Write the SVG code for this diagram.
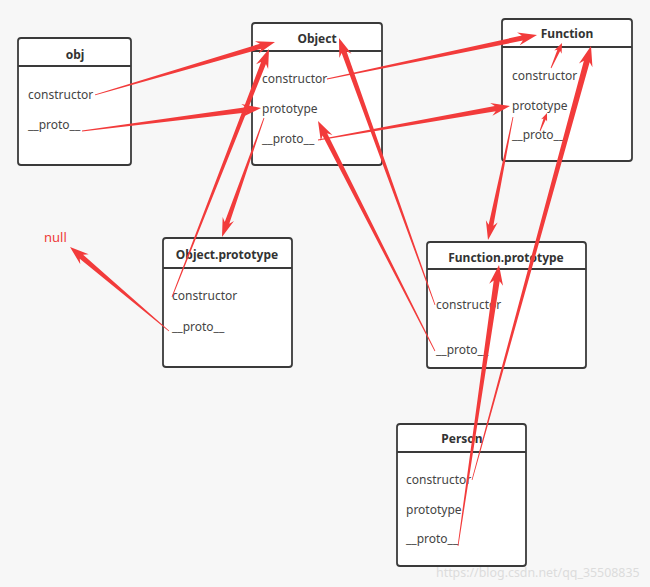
<svg xmlns="http://www.w3.org/2000/svg" width="650" height="587" viewBox="0 0 650 587">
<style>
.bg{fill:#f7f7f7}
.box{fill:#ffffff;stroke:#3a3a3a;stroke-width:1.8}
.sep{stroke:#3a3a3a;stroke-width:1.8}
.title{font-family:"Noto Sans","Open Sans",sans-serif;font-size:12px;font-weight:bold;fill:#333;text-anchor:middle}
.row{font-family:"Noto Sans","Open Sans",sans-serif;font-size:12px;fill:#444}
.arr{fill:#f23b3b}
.null{font-family:"Noto Sans","Open Sans",sans-serif;font-size:13px;fill:#ee3a3a}
.wm{font-family:"Noto Sans","Open Sans",sans-serif;font-size:12.4px;fill:#dcdcdc}
</style>
<rect class="bg" x="0" y="0" width="650" height="587"/>

<g id="obj">
<rect class="box" x="18" y="38" width="113" height="127" rx="3"/>
<line class="sep" x1="18" y1="66" x2="131" y2="66"/>
<text class="title" x="75" y="59">obj</text>
<text class="row" x="28" y="99">constructor</text>
<text class="row" x="28" y="129">__proto__</text>
</g>

<g id="Object">
<rect class="box" x="252" y="23" width="130" height="142" rx="3"/>
<line class="sep" x1="252" y1="51" x2="382" y2="51"/>
<text class="title" x="317" y="43">Object</text>
<text class="row" x="262" y="83">constructor</text>
<text class="row" x="262" y="113">prototype</text>
<text class="row" x="262" y="143">__proto__</text>
</g>

<g id="Function">
<rect class="box" x="502" y="19" width="130" height="142" rx="3"/>
<line class="sep" x1="502" y1="47" x2="632" y2="47"/>
<text class="title" x="567" y="38">Function</text>
<text class="row" x="512" y="80">constructor</text>
<text class="row" x="512" y="110">prototype</text>
<text class="row" x="512" y="139">__proto__</text>
</g>

<g id="ObjectPrototype">
<rect class="box" x="163" y="238" width="129" height="129" rx="3"/>
<line class="sep" x1="163" y1="268" x2="292" y2="268"/>
<text class="title" x="227" y="259">Object.prototype</text>
<text class="row" x="172" y="300">constructor</text>
<text class="row" x="172" y="331">__proto__</text>
</g>

<g id="FunctionPrototype">
<rect class="box" x="427" y="242" width="159" height="126" rx="3"/>
<line class="sep" x1="427" y1="269" x2="586" y2="269"/>
<text class="title" x="506" y="262">Function.prototype</text>
<text class="row" x="436" y="309">constructor</text>
<text class="row" x="436" y="354">__proto__</text>
</g>

<g id="Person">
<rect class="box" x="397" y="424" width="129" height="142" rx="3"/>
<line class="sep" x1="397" y1="452" x2="526" y2="452"/>
<text class="title" x="462" y="443">Person</text>
<text class="row" x="406" y="484">constructor</text>
<text class="row" x="406" y="514">prototype</text>
<text class="row" x="406" y="543">__proto__</text>
</g>

<g id="null">
<text class="null" x="44" y="242">null</text>
</g>

<g id="connectors" class="arr">
<path transform="translate(275,42) rotate(-16.4)" d="M0,0 L-19,-6.5 L-15,-2.6 L-187.6,-0.4 L-187.6,0.4 L-15,2.6 L-19,6.5 Z"/>
<path transform="translate(261,108) rotate(-7.32)" d="M0,0 L-19,-6.5 L-15,-2.6 L-180.5,-0.4 L-180.5,0.4 L-15,2.6 L-19,6.5 Z"/>
<path transform="translate(537,35) rotate(-11.83)" d="M0,0 L-19,-6.5 L-15,-2.6 L-214.6,-0.4 L-214.6,0.4 L-15,2.6 L-19,6.5 Z"/>
<path transform="translate(510,106) rotate(-10.04)" d="M0,0 L-19,-6.5 L-15,-2.6 L-195,-0.4 L-195,0.4 L-15,2.6 L-19,6.5 Z"/>
<path transform="translate(222,237) rotate(109.44)" d="M0,0 L-19,-6 L-15,-2.4 L-126.2,-0.4 L-126.2,0.4 L-15,2.4 L-19,6 Z"/>
<path transform="translate(269,49) rotate(-68.64)" d="M0,0 L-19,-6.5 L-15,-2.6 L-266.3,-0.4 L-266.3,0.4 L-15,2.6 L-19,6.5 Z"/>
<path transform="translate(70,247) rotate(-139.69)" d="M0,0 L-19,-6.5 L-15,-2.6 L-129.8,-0.4 L-129.8,0.4 L-15,2.6 L-19,6.5 Z"/>
<path transform="translate(339,38) rotate(-109.78)" d="M0,0 L-19,-6.5 L-15,-2.6 L-283.7,-0.4 L-283.7,0.4 L-15,2.6 L-19,6.5 Z"/>
<path transform="translate(318,121) rotate(-116.96)" d="M0,0 L-19,-6.5 L-15,-2.6 L-258,-0.4 L-258,0.4 L-15,2.6 L-19,6.5 Z"/>
<path transform="translate(562,43) rotate(-66.25)" d="M0,0 L-10,-4 L-8,-1.5 L-27.3,-0.4 L-27.3,0.4 L-8,1.5 L-10,4 Z"/>
<path transform="translate(547,113) rotate(-68.75)" d="M0,0 L-8,-3.2 L-6.5,-1.2 L-19.3,-0.4 L-19.3,0.4 L-6.5,1.2 L-8,3.2 Z"/>
<path transform="translate(488,240) rotate(101.49)" d="M0,0 L-19,-6 L-15,-2.4 L-125.5,-0.4 L-125.5,0.4 L-15,2.4 L-19,6 Z"/>
<path transform="translate(591,46) rotate(-74.67)" d="M0,0 L-20,-7 L-16,-3 L-450,-0.4 L-450,0.4 L-16,3 L-20,7 Z"/>
<path transform="translate(499,265) rotate(-81.7)" d="M0,0 L-20,-7 L-16,-3 L-284,-0.4 L-284,0.4 L-16,3 L-20,7 Z"/>
</g>

<text class="wm" x="436" y="577">https://blog.csdn.net/qq_35508835</text>
</svg>
